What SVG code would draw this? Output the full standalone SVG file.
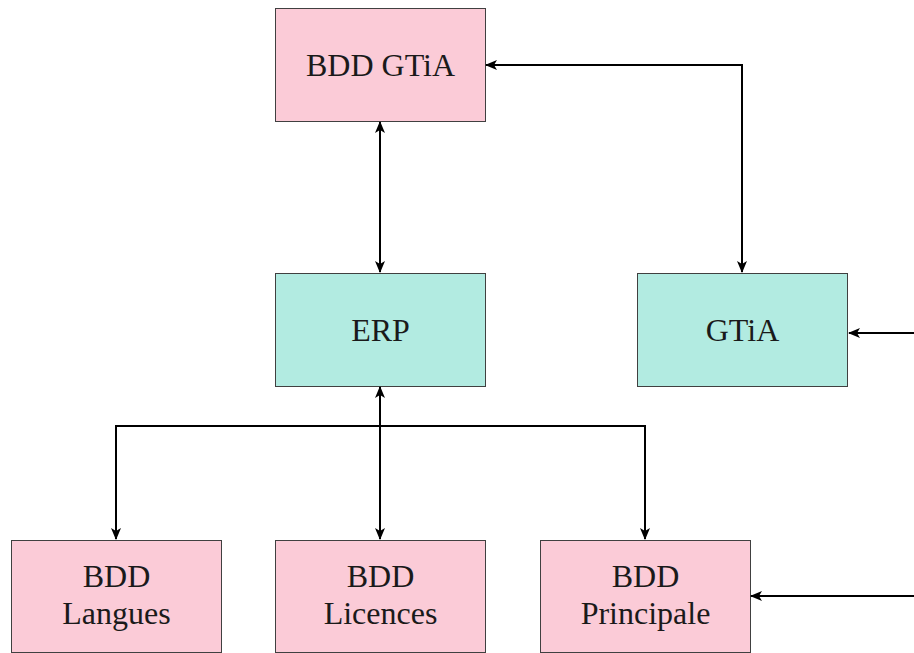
<svg xmlns="http://www.w3.org/2000/svg" width="914" height="653" viewBox="0 0 914 653">
<style>
.pink{fill:#FBCBD7;stroke:#404040;stroke-width:1}
.teal{fill:#B2EBE1;stroke:#404040;stroke-width:1}
text{font-family:"Liberation Serif","DejaVu Serif",serif;font-size:32px;fill:#1a1a1a;text-anchor:middle}
.c{fill:none;stroke:#000;stroke-width:2}
</style>
<defs>
<marker id="ah" viewBox="0 0 12 10" refX="11" refY="5" markerWidth="12" markerHeight="10" markerUnits="userSpaceOnUse" orient="auto-start-reverse">
<path d="M0,0 L12,5 L0,10 L3,5 Z" fill="#000"/>
</marker>
</defs>
<rect width="914" height="653" fill="#fff"/>
<g id="bdd-gtia"><rect class="pink" x="275.5" y="8.5" width="210" height="113"/><text x="380.5" y="76">BDD GTiA</text></g>
<g id="erp"><rect class="teal" x="275.5" y="273.5" width="210" height="113"/><text x="380.5" y="341">ERP</text></g>
<g id="gtia"><rect class="teal" x="637.5" y="273.5" width="210" height="113"/><text x="742.5" y="341">GTiA</text></g>
<g id="bdd-langues"><rect class="pink" x="11.5" y="540.5" width="210" height="112"/><text x="116.5" y="587">BDD</text><text x="116.5" y="624">Langues</text></g>
<g id="bdd-licences"><rect class="pink" x="275.5" y="540.5" width="210" height="112"/><text x="380.5" y="587">BDD</text><text x="380.5" y="624">Licences</text></g>
<g id="bdd-principale"><rect class="pink" x="540.5" y="540.5" width="210" height="112"/><text x="645.5" y="587">BDD</text><text x="645.5" y="624">Principale</text></g>
<g id="connectors">
<path class="c" d="M380,122 V272" marker-start="url(#ah)" marker-end="url(#ah)"/>
<path class="c" d="M486,65 H742 V272" marker-start="url(#ah)" marker-end="url(#ah)"/>
<path class="c" d="M914,333 H849" marker-end="url(#ah)"/>
<path class="c" d="M914,596 H751" marker-end="url(#ah)"/>
<path class="c" d="M380,387 V539" marker-start="url(#ah)" marker-end="url(#ah)"/>
<path class="c" d="M116,539 V426 H645 V539" marker-start="url(#ah)" marker-end="url(#ah)"/>
</g>
</svg>
